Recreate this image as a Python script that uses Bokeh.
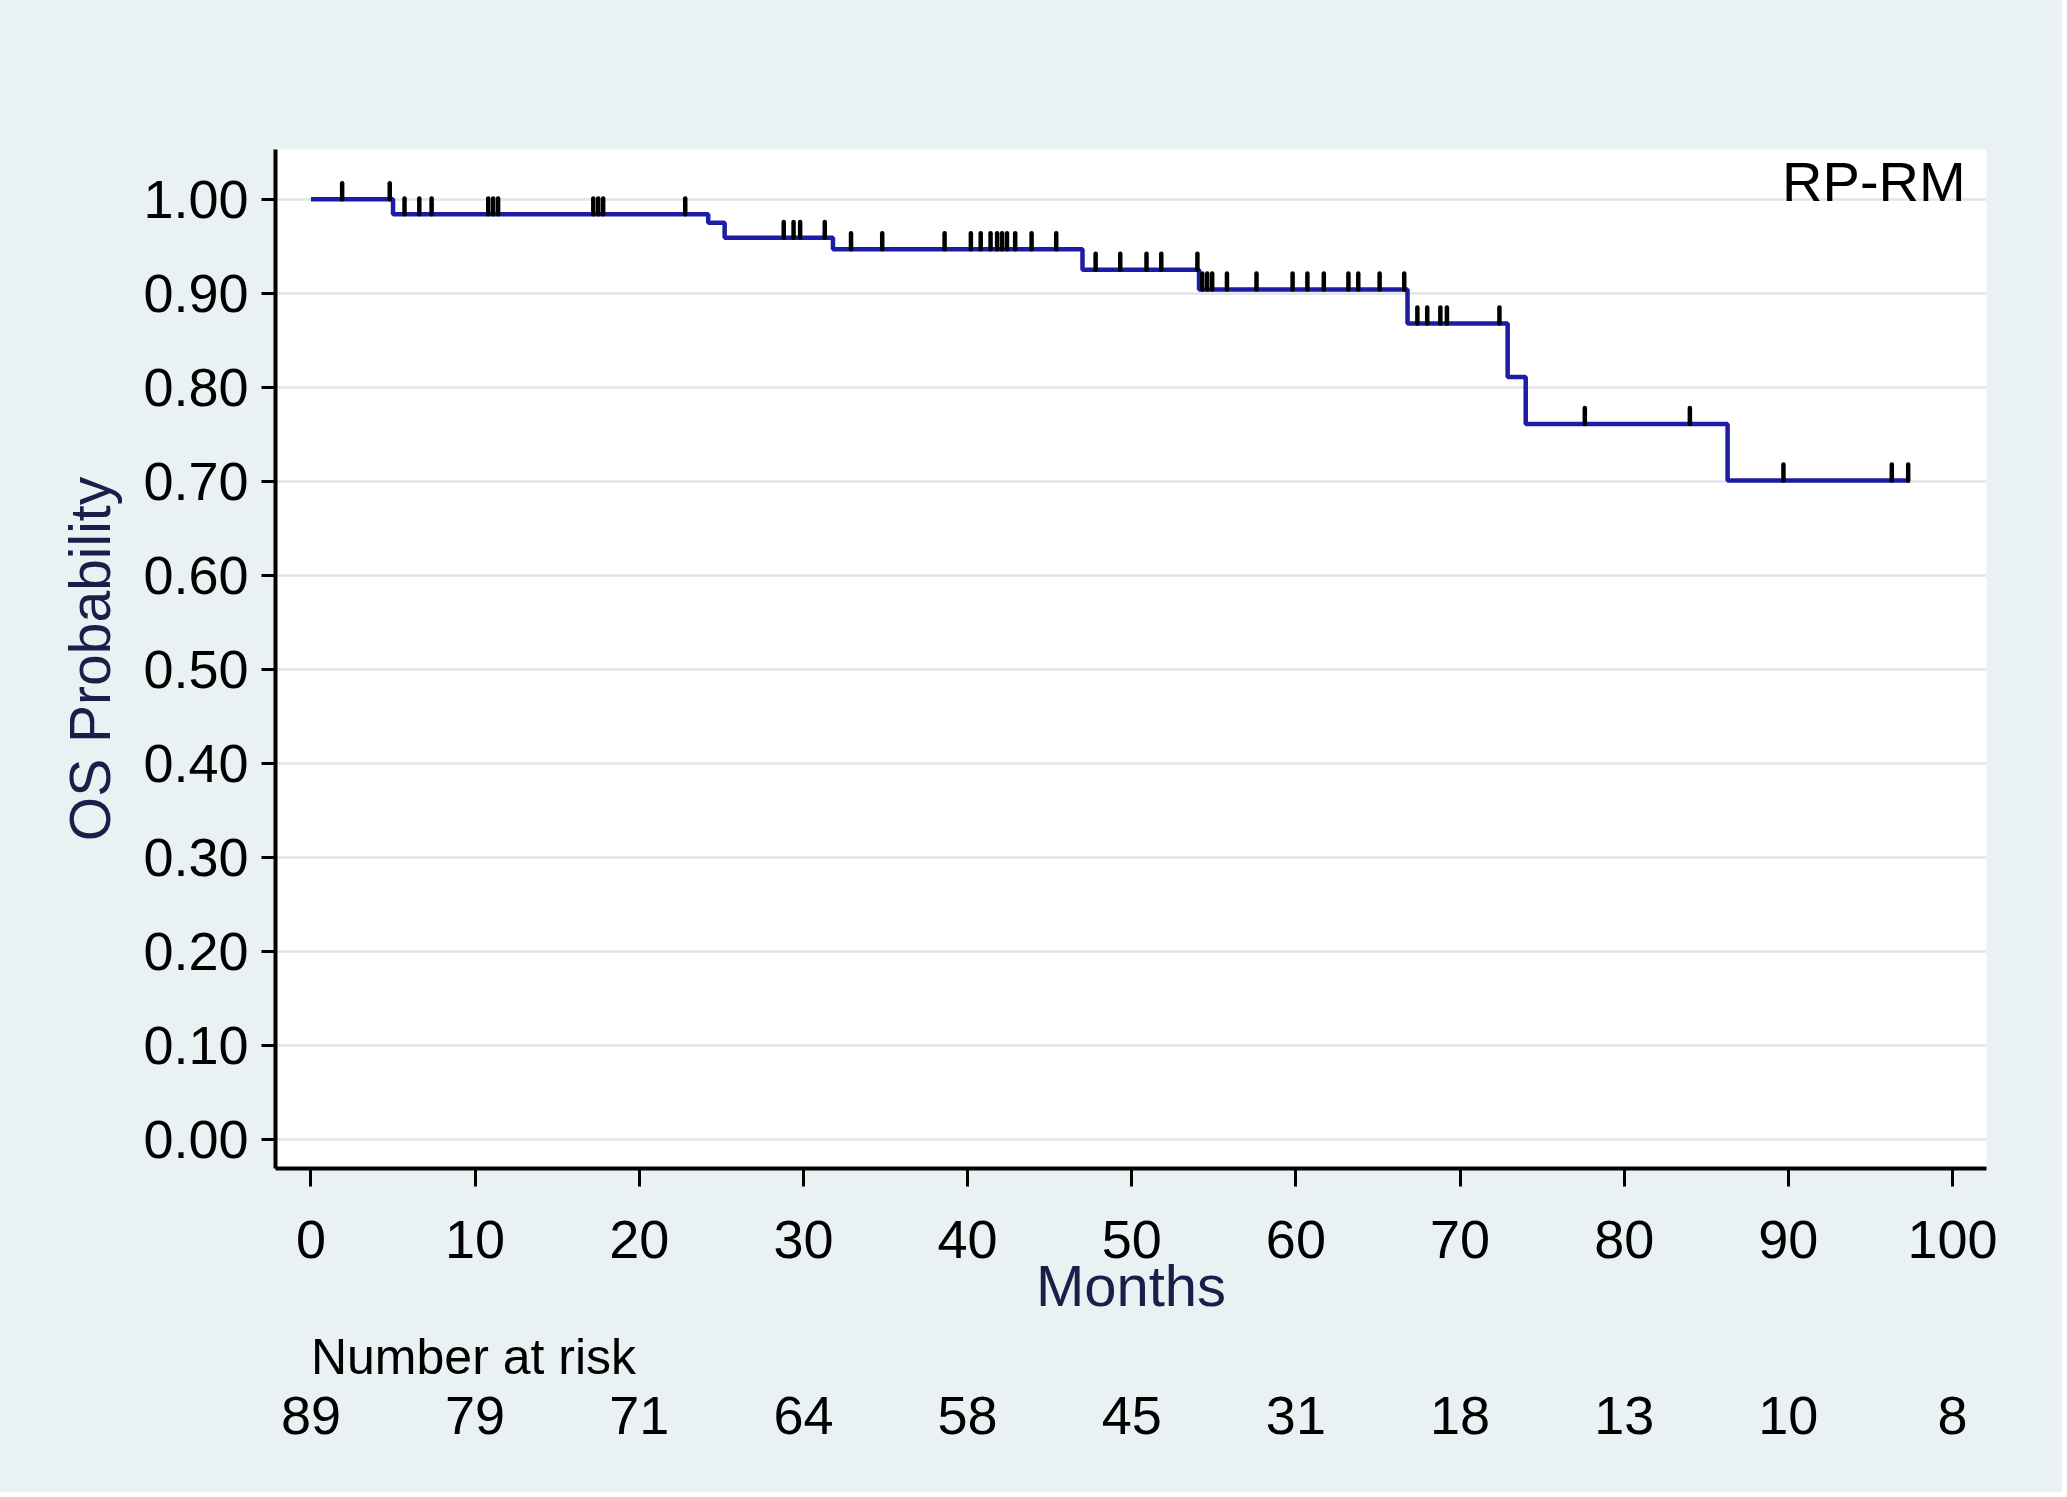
import numpy as np
from bokeh.plotting import figure
from bokeh.layouts import column
from bokeh.models import (FixedTicker, NumeralTickFormatter, Range1d, Label,
                          ColumnDataSource)
from bokeh.core.properties import value
from bokeh.embed import file_html
from bokeh.resources import INLINE

# ---------------- data ----------------
step_times = [0.0, 5.0, 24.2, 25.2, 31.8, 47.0, 54.1, 66.8, 72.9, 74.0, 86.3]
step_surv = [1.000, 0.984, 0.975, 0.959, 0.947, 0.925, 0.904, 0.868, 0.811, 0.761, 0.701]
end_time = 97.4

censor_times = [1.9, 4.8,
                5.7, 6.6, 7.35, 10.8, 11.1, 11.4, 17.2, 17.5, 17.8, 22.8,
                28.8, 29.4, 29.8, 31.3,
                32.9, 34.8, 38.6, 40.2, 40.8, 41.4, 41.8, 42.1, 42.4, 42.9, 43.9, 45.4,
                47.8, 49.3, 50.9, 51.8, 54.0,
                54.3, 54.6, 54.9, 55.8, 57.6, 59.8, 60.7, 61.7, 63.2, 63.8, 65.1, 66.6,
                67.4, 68.0, 68.8, 69.2, 72.4,
                77.6, 84.0,
                89.7, 96.3, 97.3]

risk_times = [0, 10, 20, 30, 40, 50, 60, 70, 80, 90, 100]
risk_counts = [89, 79, 71, 64, 58, 45, 31, 18, 13, 10, 8]

x_ticks = [0, 10, 20, 30, 40, 50, 60, 70, 80, 90, 100]
y_ticks = [0.0, 0.1, 0.2, 0.3, 0.4, 0.5, 0.6, 0.7, 0.8, 0.9, 1.0]

group_label = "RP-RM"
x_title = "Months"
y_title = "OS Probability"
risk_title = "Number at risk"

# ---------------- layout / style ----------------
W = 2062
H_MAIN, H_RISK = 1320, 172
BL, BR, BT, BB = 275, 76, 149, 149
FRAME_H = H_MAIN - BT - BB
X0, X1 = -2.16, 102.07
Y0, Y1 = -0.031, 1.053
BG = "#eaf1f3"
FONT = "Liberation Sans"
LINE_BLUE = "#1c1ca6"
TITLE_COL = "#18204a"

xr = Range1d(X0, X1)

p = figure(width=W, height=H_MAIN, output_backend="svg", toolbar_location=None,
           x_range=xr, y_range=Range1d(Y0, Y1),
           min_border_left=BL, min_border_right=BR,
           min_border_top=BT, min_border_bottom=BB)
p.background_fill_color = "white"
p.border_fill_color = BG
p.outline_line_color = None

# grid
p.xgrid.grid_line_color = None
p.ygrid.ticker = FixedTicker(ticks=y_ticks)
p.ygrid.grid_line_color = "#e1e5e8"
p.ygrid.grid_line_width = 2.5

# axes
for ax in (p.xaxis[0], p.yaxis[0]):
    ax.axis_line_color = "black"
    ax.axis_line_width = 4
    ax.major_tick_line_color = "black"
    ax.major_tick_line_width = 3
    ax.minor_tick_line_color = None
    ax.major_tick_in = 0
    ax.major_label_text_font = FONT
    ax.major_label_text_font_size = "54px"
    ax.major_label_text_color = "black"
    ax.axis_label_text_font = FONT
    ax.axis_label_text_font_style = "normal"
    ax.axis_label_text_color = TITLE_COL

p.xaxis.ticker = FixedTicker(ticks=x_ticks)
p.xaxis.major_tick_out = 18
p.xaxis.major_label_standoff = 34
p.xaxis.axis_label = x_title
p.xaxis.axis_label_text_font_size = "58px"
p.xaxis.axis_label_standoff = -8

p.yaxis.ticker = FixedTicker(ticks=y_ticks)
p.yaxis.formatter = NumeralTickFormatter(format="0.00")
p.yaxis.major_tick_out = 14
p.yaxis.major_label_standoff = 13
p.yaxis.axis_label = y_title
p.yaxis.axis_label_text_font_size = "57px"
p.yaxis.axis_label_standoff = 18

# KM step curve
xs = list(step_times) + [end_time]
ys = list(step_surv) + [step_surv[-1]]
p.step(xs, ys, mode="after", line_color=LINE_BLUE, line_width=4.5)

# censor ticks
st = np.array(step_times)
sv = np.array(step_surv)
ct = np.array(censor_times)
idx = np.searchsorted(st, ct, side="right") - 1
cs = sv[idx]
tick_h = 16 * (Y1 - Y0) / FRAME_H
p.segment(x0=ct, y0=cs, x1=ct, y1=cs + tick_h, line_color="black",
          line_width=4.5, line_cap="round")

# group label
p.add_layout(Label(x=100.8, y=1.019, text=group_label, text_align="right",
                   text_baseline="alphabetic", text_font=FONT,
                   text_font_size="56px", text_color="black"))

# ---------------- number-at-risk table (second figure, shared x) ----------------
r = figure(width=W, height=H_RISK, output_backend="svg", toolbar_location=None,
           x_range=xr, y_range=Range1d(0, 1),
           x_axis_location=None, y_axis_location=None,
           min_border_left=BL, min_border_right=BR,
           min_border_top=0, min_border_bottom=0)
r.background_fill_color = BG
r.border_fill_color = BG
r.outline_line_color = None
r.grid.visible = False

r.text(x=[risk_times[0]], y=[0.79], text=[risk_title], text_align="left",
       text_baseline="middle", text_font=value(FONT), text_font_size="50px",
       text_color="black")
src = ColumnDataSource(dict(x=risk_times, y=[0.445] * len(risk_times),
                            t=[str(c) for c in risk_counts]))
r.text(x="x", y="y", text="t", source=src, text_align="center",
       text_baseline="middle", text_font=value(FONT), text_font_size="54px",
       text_color="black")

layout = column(p, r, spacing=0)
layout.styles = {"background-color": BG}
open("out.html", "w").write(file_html(layout, INLINE))
